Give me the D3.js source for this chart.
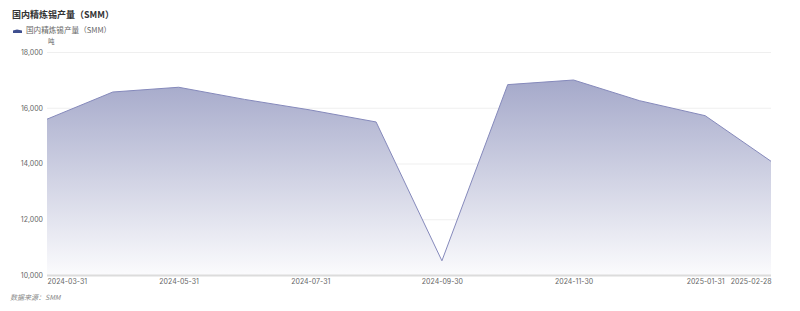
<!DOCTYPE html>
<html><head><meta charset="utf-8">
<script src="https://cdn.jsdelivr.net/npm/d3@7"></script>
<style>body{margin:0;background:#fff;}svg{display:block;font-family:"Noto Sans CJK SC","Noto Sans",sans-serif;}</style>
</head><body>
<svg id="c" width="800" height="311"></svg>
<script>
const categories = ["2024-03-31","2024-04-30","2024-05-31","2024-06-30","2024-07-31","2024-08-31","2024-09-30","2024-10-31","2024-11-30","2024-12-31","2025-01-31","2025-02-28"];
const values = [15590,16565,16735,16300,15920,15490,10510,16830,16995,16255,15715,14080];
const shownTicks = ["2024-03-31","2024-05-31","2024-07-31","2024-09-30","2024-11-30","2025-01-31","2025-02-28"];
const yTicks = [10000,12000,14000,16000,18000];
const title = "国内精炼锡产量（SMM）";
const seriesName = "国内精炼锡产量（SMM）";
const unit = "吨";
const source = "数据来源：SMM";

(function(){
const svg = d3.select("#c");
const pL = 47, pR = 771, pT = 52, pB = 275;
const x = d3.scalePoint().domain(categories).range([pL, pR]);
const y = d3.scaleLinear().domain([10000,18000]).range([pB, pT]);

const defs = svg.append("defs");
const g = defs.append("linearGradient").attr("id","fillg")
  .attr("gradientUnits","userSpaceOnUse").attr("x1",0).attr("x2",0).attr("y1",y(d3.max(values))).attr("y2",pB);
g.append("stop").attr("offset","0%").attr("stop-color","#a5a9ca");
g.append("stop").attr("offset","100%").attr("stop-color","#fbfbfd");

svg.append("g").selectAll("line").data(yTicks.slice(1)).join("line")
  .attr("x1",pL).attr("x2",pR).attr("y1",d=>y(d)+0.5).attr("y2",d=>y(d)+0.5)
  .attr("stroke","#efefef").attr("stroke-width",1);

const yAxis = d3.axisLeft(y).tickValues(yTicks).tickFormat(d3.format(",")).tickSize(0).tickPadding(4);
const ya = svg.append("g").attr("transform",`translate(${pL},0)`).call(yAxis);
ya.select(".domain").remove();
ya.selectAll("text").attr("fill","#666").style("font-size","7px").style("font-family","Inter, 'Noto Sans', sans-serif");

const area = d3.area().x((d,i)=>x(categories[i])).y0(pB).y1(d=>y(d));
svg.append("path").datum(values).attr("d",area).attr("fill","url(#fillg)");
const line = d3.line().x((d,i)=>x(categories[i])).y(d=>y(d));
svg.append("path").datum(values).attr("d",line).attr("fill","none").attr("stroke","#8589bb").attr("stroke-width",1);

svg.append("line").attr("x1",pL).attr("x2",pR).attr("y1",pB+0.5).attr("y2",pB+0.5).attr("stroke","#dcdcdc").attr("stroke-width",2);
const xAxis = d3.axisBottom(x).tickValues(shownTicks).tickSize(0).tickPadding(4);
const xa = svg.append("g").attr("transform",`translate(0,${pB})`).call(xAxis);
xa.select(".domain").remove();
xa.selectAll("text").attr("fill","#666").style("font-size","7px").style("font-family","Inter, 'Noto Sans', sans-serif")
  .attr("text-anchor",(d,i)=> i===0 ? "start" : (i===shownTicks.length-1 ? "end" : "middle"));

svg.append("text").attr("x",12).attr("y",18).text(title).attr("fill","#333").style("font-size","9px").style("font-weight","bold");
svg.append("path").attr("d","M13,33 L13,30.5 L17,29.5 L22,30.5 L22,33 Z").attr("fill","#3f4f8f");
svg.append("text").attr("x",26).attr("y",33).text(seriesName).attr("fill","#666").style("font-size","7.6px");
svg.append("text").attr("x",48).attr("y",44).text(unit).attr("fill","#666").style("font-size","6.5px");
svg.append("text").attr("x",10).attr("y",300).text(source).attr("fill","#888").style("font-size","7px").style("font-style","italic");
})();
</script>
</body></html>
